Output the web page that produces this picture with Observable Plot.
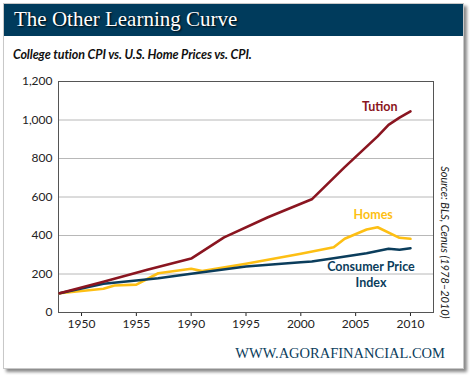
<!DOCTYPE html>
<html>
<head>
<meta charset="utf-8">
<script src="https://cdn.jsdelivr.net/npm/d3@7"></script>
<script src="https://cdn.jsdelivr.net/npm/@observablehq/plot@0.6"></script>
<style>
  html, body { margin: 0; padding: 0; background: #fff; width: 470px; height: 375px; overflow: hidden; }
  #card { position: absolute; left: 3px; top: 3px; width: 459px; height: 364px; border: 1px solid #c8c8c8; box-shadow: 3px 3px 3px #8a8a8a; background: #fff; }
  #titlebar { position: absolute; left: 0; top: 0; width: 459px; height: 32px; background: #003b5c; }
  #title { position: absolute; left: 10px; top: 3px; color: #fff; font-family: "Liberation Serif", serif; font-size: 21px; text-shadow: 1px 1px 2px #000; white-space: nowrap; }
  #subtitle { position: absolute; left: 9px; top: 43px; font-family: Lato, sans-serif; font-weight: bold; font-style: italic; font-size: 12.5px; color: #111; white-space: nowrap; letter-spacing: -0.1px; }
  #footer { position: absolute; left: 0; top: 341px; width: 441px; text-align: right; font-family: "Liberation Serif", serif; font-size: 14.5px; color: #0b3d5c; white-space: nowrap; }
  #chart { position: absolute; left: 0; top: 60px; }
</style>
</head>
<body>
<div id="card">
  <div id="titlebar"><div id="title">The Other Learning Curve</div></div>
  <div id="subtitle">College tution CPI vs. U.S. Home Prices vs. CPI.</div>
  <div id="footer">WWW.AGORAFINANCIAL.COM</div>
</div>
<div id="chart"></div>
<script>
// Tick positions and their (as printed) labels
const xTickYears = [1980, 1985, 1990, 1995, 2000, 2005, 2010];
const xTickLabels = ["1950", "1955", "1990", "1995", "2000", "2005", "2010"];
const yTicks = [0, 200, 400, 600, 800, 1000, 1200];

// Tuition CPI
const tuitionYears  = [1978, 1982, 1986, 1990, 1993, 1997, 2001, 2004, 2007, 2008, 2009, 2010];
const tuitionValues = [100, 160, 222, 280, 390, 495, 588, 755, 915, 975, 1012, 1045];

// Home prices
const homesYears  = [1978, 1982, 1983, 1985, 1987, 1990, 1991, 1995, 2000, 2003, 2004, 2006, 2007, 2009, 2010];
const homesValues = [100, 123, 140, 145, 204, 227, 215, 253, 305, 339, 383, 431, 443, 388, 383];

// Consumer Price Index
const cpiYears  = [1978, 1982, 1985, 1987, 1990, 1995, 2000, 2001, 2003, 2006, 2008, 2009, 2010];
const cpiValues = [100, 149, 166, 178, 201, 239, 261, 265, 282, 308, 331, 326, 334];

const seriesLabels = [
  {name: "Tution", year: 2007.2, value: 1065, color: "#8a1520"},
  {name: "Homes", year: 2006.6, value: 509, color: "#fdbf14"},
  {name: "Consumer Price", year: 2006.4, value: 234, color: "#0b3d5c"},
  {name: "Index", year: 2006.4, value: 154, color: "#0b3d5c"}
];

const toRows = (ys, vs) => ys.map((y, i) => ({year: y, value: vs[i]}));
const tuition = toRows(tuitionYears, tuitionValues);
const homes = toRows(homesYears, homesValues);
const cpi = toRows(cpiYears, cpiValues);

const chart = Plot.plot({
  width: 470,
  height: 280,
  marginTop: 21,
  marginBottom: 28,
  marginLeft: 58,
  marginRight: 37,
  style: {fontFamily: "Lato, sans-serif", fontSize: "12px", color: "#222", background: "transparent", overflow: "visible"},
  x: {domain: [1977.9, 2012.1]},
  y: {domain: [0, 1200]},
  marks: [
    Plot.gridY([200, 400, 600, 800, 1000], {stroke: "#b8b8b8", strokeOpacity: 1}),
    Plot.axisY({ticks: yTicks, tickSize: 0, tickPadding: 6, tickFormat: d3.format(","), label: null, fontSize: 12}),
    Plot.axisX({ticks: xTickYears, tickSize: 4, tickPadding: 3, tickFormat: d => xTickLabels[xTickYears.indexOf(d)], label: null, fontSize: 12}),
    Plot.frame({stroke: "#555"}),
    Plot.line(homes, {x: "year", y: "value", stroke: "#fdbf14", strokeWidth: 2.6}),
    Plot.line(cpi, {x: "year", y: "value", stroke: "#0b3d5c", strokeWidth: 2.6}),
    Plot.line(tuition, {x: "year", y: "value", stroke: "#8a1520", strokeWidth: 2.6}),
    Plot.text(seriesLabels, {x: "year", y: "value", text: "name", fill: "color", fontWeight: "bold", fontSize: 12.5}),
    Plot.text(["Source: BLS, Cenus (1978\u20132010)"], {frameAnchor: "bottom-right", text: d => d, rotate: 90, textAnchor: "end", dx: 7, dy: 6, fontStyle: "italic", fontSize: 11, fill: "#222"})
  ]
});
document.getElementById("chart").appendChild(chart);
</script>
</body>
</html>
